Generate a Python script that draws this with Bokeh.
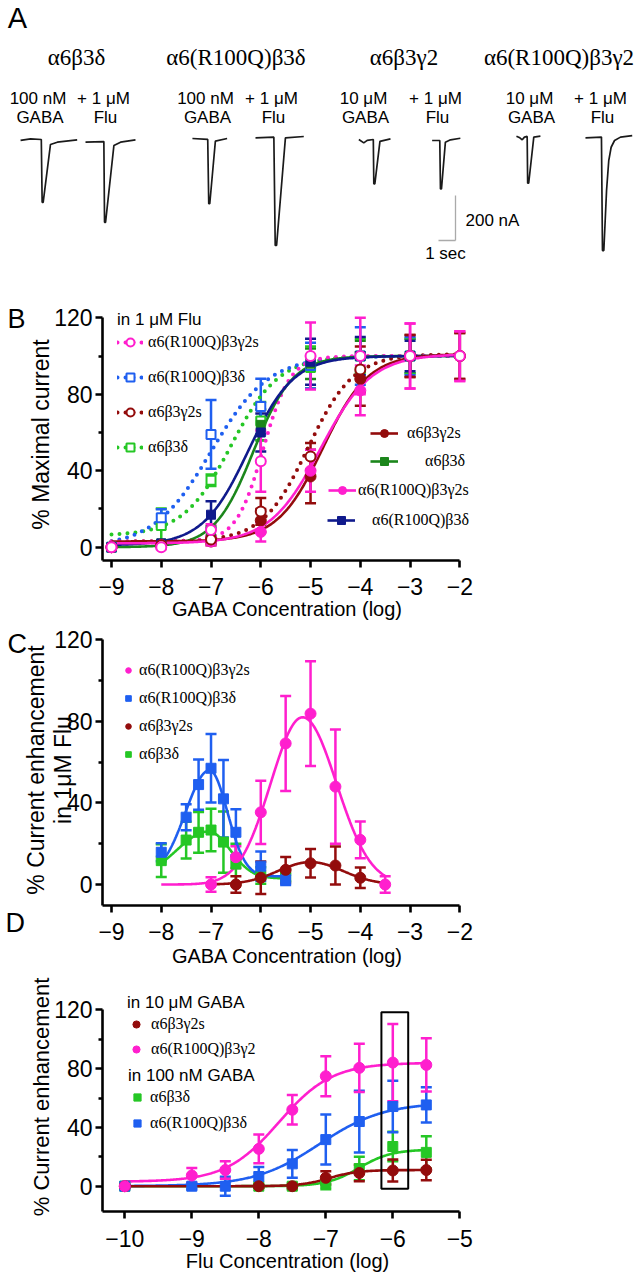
import numpy as np
from bokeh.plotting import figure
from bokeh.models import Range1d, Label, Legend, LegendItem, BoxAnnotation, FixedTicker, Title
from bokeh.layouts import column
from bokeh.embed import file_html
from bokeh.resources import INLINE

# ======================= DATA =======================
# ---- Panel A: current traces (time in s from trace start, current in nA from baseline)
A_TITLES = ["α6β3δ", "α6(R100Q)β3δ", "α6β3γ2", "α6(R100Q)β3γ2"]
A_COND_TOP = ["100 nM", "+ 1 μM", "100 nM", "+ 1 μM", "10 μM", "+ 1 μM", "10 μM", "+ 1 μM"]
A_COND_BOTTOM = ["GABA", "Flu", "GABA", "Flu", "GABA", "Flu", "GABA", "Flu"]
TRACE_1_T = [0, 0.59, 1.22, 1.27, 1.33, 1.76, 2.16, 3.33]
TRACE_1_I = [-4, 3, 0, -279, -279, -22, -12, -2]
TRACE_2_T = [0, 1.08, 1.12, 1.18, 1.67, 2.06, 2.94]
TRACE_2_I = [0, 3, -356, -356, -15, 0, 10]
TRACE_3_T = [0, 0.9, 0.96, 1.02, 1.35, 2.04]
TRACE_3_I = [0, -4, -290, -290, -12, 0]
TRACE_4_T = [0, 1.08, 1.16, 1.24, 1.76, 2.84]
TRACE_4_I = [-3, 0, -481, -481, -3, 3]
TRACE_5_T = [0, 0.29, 0.49, 0.85, 0.88, 0.94, 1.24, 1.86]
TRACE_5_I = [0, -15, -4, 0, -197, -197, -8, 3]
TRACE_6_T = [0, 0.45, 0.49, 0.55, 0.78, 1.08, 1.66]
TRACE_6_I = [0, 0, -215, -215, -7.5, 3, 10]
TRACE_7_T = [0, 0.2, 0.34, 0.47, 0.63, 0.66, 0.72, 1.02, 1.41]
TRACE_7_I = [0, -7, -16, -4, -1, -209, -209, -4, 0]
TRACE_8_T = [0, 0.94, 1.0, 1.08, 1.24, 1.37, 1.51, 1.71, 2.06, 2.75]
TRACE_8_I = [0, 3, -501, -501, -234, -101, -42, -12, 3, 10]
SCALE_BAR_NA = 200
SCALE_BAR_SEC = 1

# ---- Panel B: % maximal current vs log[GABA]
B_X_G = [-9, -8, -7, -6, -5, -4, -3, -2]
B_X_D = [-9, -8, -7, -6, -5, -4, -3]
B_A6B3G2S = [0, 1, 3, 14, 37, 88, 100, 100]
B_A6B3G2S_ERR = [1, 1, 2, 6, 14, 14, 11, 12]
B_R100Q_G2S = [0, 1, 3, 8, 40, 82, 100, 100]
B_R100Q_G2S_ERR = [1, 1, 2, 5, 11, 13, 17, 13]
B_A6B3D = [0, 2, 8, 64, 96, 100, 100]
B_A6B3D_ERR = [1, 1, 3, 8, 8, 8, 9]
B_R100Q_D = [0, 2, 17, 60, 97, 100, 100]
B_R100Q_D_ERR = [1, 1, 7, 10, 12, 10, 8]
B_FLU_R100Q_G2S = [0, 0, 9, 45, 100, 100, 100, 100]
B_FLU_R100Q_G2S_ERR = [1, 1, 3, 16, 17.5, 20, 17, 13]
B_FLU_R100Q_D = [0, 15.4, 59, 73.6, 95, 100, 100]
B_FLU_R100Q_D_ERR = [1, 4.5, 18, 14.5, 12, 15, 10]
B_FLU_A6B3G2S = [0, 1, 4, 18.7, 47.5, 93, 100, 100]
B_FLU_A6B3G2S_ERR = [1, 1, 2, 7, 7, 12, 11, 12]
B_FLU_A6B3D = [0, 11.3, 35, 66, 94, 100, 100]
B_FLU_A6B3D_ERR = [1, 9, 3, 10, 11, 9, 9]
# fitted Hill curves: [bottom, top, logEC50, Hill slope]
B_FIT_A6B3G2S = [3, 101, -4.75, 0.95]
B_FIT_R100Q_G2S = [2, 101, -4.8, 0.85]
B_FIT_A6B3D = [0, 100, -6.15, 1.1]
B_FIT_R100Q_D = [1, 100, -6.25, 0.95]
B_FIT_FLU_R100Q_G2S = [3, 100, -5.95, 1.6]
B_FIT_FLU_R100Q_D = [0, 100, -7.0, 0.75]
B_FIT_FLU_A6B3G2S = [3, 101, -5.05, 0.95]
B_FIT_FLU_A6B3D = [6, 100, -6.6, 0.9]

# ---- Panel C: % current enhancement in 1 uM Flu vs log[GABA]
C_X_D = [-8, -7.5, -7.25, -7, -6.75, -6.5, -6, -5.5]
C_R100Q_D = [15.8, 33, 49, 57, 42, 25.6, 9, 2.3]
C_R100Q_D_ERR = [4.4, 6.4, 12.3, 16.8, 19, 11.3, 7.2, 2.5]
C_A6B3D = [11.7, 21.8, 25.6, 26.7, 20.8, 10, 4.4, 3.6]
C_A6B3D_ERR = [8, 9, 10, 10.4, 15, 10, 4, 2]
C_X_R100Q_G2S = [-7, -6.5, -6, -5.5, -5, -4.5, -4, -3.5]
C_R100Q_G2S = [0, 13.4, 35.4, 69.2, 83.8, 48, 21.9, 0]
C_R100Q_G2S_ERR = [3.5, 5.3, 15.5, 23.3, 25.7, 28, 9, 4]
C_X_A6B3G2S = [-6.5, -6, -5.5, -5, -4.5, -4]
C_A6B3G2S = [0, 3.3, 7.2, 10.4, 9.3, 3.3]
C_A6B3G2S_ERR = [4, 8, 6.3, 7, 9.3, 5]
# bell-shaped fits: [baseline, amplitude, centre, left width, right width]
C_FIT_R100Q_G2S = [0, 82, -5.16, 0.64, 0.68]
C_FIT_R100Q_D = [4, 52, -7.03, 0.48, 0.36]
C_FIT_A6B3G2S = [0, 11, -5.0, 0.65, 0.65]
C_FIT_A6B3D = [3, 23, -7.05, 0.635, 0.436]
C_FIT_SPAN_R100Q_G2S = [-8, -3.5]
C_FIT_SPAN_R100Q_D = [-8, -5.5]
C_FIT_SPAN_A6B3G2S = [-7, -3.5]
C_FIT_SPAN_A6B3D = [-8, -5.5]

# ---- Panel D: % current enhancement vs log[Flu]
D_X = [-10, -9, -8.5, -8, -7.5, -7, -6.5, -6, -5.5]
D_X_W = [-10, -8, -7.5, -7, -6.5, -6, -5.5]
D_R100Q_G2 = [0, 7.3, 11, 25.4, 52, 74.8, 80.5, 84.1, 82.5]
D_R100Q_G2_ERR = [1.5, 5, 6, 9.8, 10, 13.6, 16.4, 26.3, 18.1]
D_R100Q_D = [0, 0, 0, 6.6, 15.2, 31.7, 44, 54.2, 55.3]
D_R100Q_D_ERR = [1.5, 2, 6.5, 6.5, 9.5, 17, 21, 17.5, 12]
D_A6B3D = [0, 0, 0, 2, 12, 27, 23]
D_A6B3D_ERR = [1, 1, 2, 4, 8, 10, 11]
D_A6B3G2S = [0, 0, 0, 5.7, 9, 10.7, 11]
D_A6B3G2S_ERR = [1, 1, 1.5, 4.5, 5.6, 7.5, 7]
D_FIT_R100Q_G2 = [3, 84, -7.7, 1.1]
D_FIT_R100Q_D = [0, 57, -7.1, 0.9]
D_FIT_A6B3D = [0, 25, -6.5, 1.8]
D_FIT_A6B3G2S = [0, 11, -6.95, 2.0]
D_HIGHLIGHT = [-6.17, -5.77, -1.8, 118.4]  # left, right, bottom, top

Y_TICKS = [0, 40, 80, 120]
Y_MINOR = [20, 60, 100]
B_X_TICKS = [-9, -8, -7, -6, -5, -4, -3, -2]
D_X_TICKS = [-10, -9, -8, -7, -6, -5]

# ======================= STYLE / LAYOUT =======================
W = 641
MAG = "#ff1fce"
DRED = "#930c0c"
BLUE = "#1f5ff0"
NAVY = "#101a8c"
GRN = "#25c725"
DGRN = "#1b861b"
SANS = "Liberation Sans"
SERIF = "Liberation Serif"
DOT = dict(line_dash="0 8", line_cap="round", line_width=4)
FRAME_L = 102
FRAME_R = 472


def hill(x, p):
    b, t, e, n = p
    return b + (t - b) / (1 + 10 ** ((e - x) * n))


def bell(x, p):
    base, amp, c, sl, sr = p
    s = np.where(x < c, sl, sr)
    return base + amp * np.exp(-(x - c) ** 2 / (2 * s ** 2))


def errbar(p, xs, ys, es, color, lw=2.5, cap=11):
    xs = np.asarray(xs, float); ys = np.asarray(ys, float); es = np.asarray(es, float)
    p.segment(x0=xs, y0=ys - es, x1=xs, y1=ys + es, line_color=color, line_width=lw)
    p.scatter(x=np.concatenate([xs, xs]), y=np.concatenate([ys - es, ys + es]),
              marker="dash", size=cap, line_color=color, line_width=lw)


def base_fig(height, xr, yr, top, bottom):
    p = figure(width=W, height=height, x_range=Range1d(*xr), y_range=Range1d(*yr),
               output_backend="svg", toolbar_location=None, frame_align=False,
               min_border_left=FRAME_L, min_border_right=W - FRAME_R,
               min_border_top=top, min_border_bottom=bottom)
    p.grid.visible = False
    p.outline_line_color = None
    p.background_fill_color = "white"
    p.border_fill_color = "white"
    return p


def style_axes(p, xticks, xbounds, xlabel, ylabel, ylabel_size="23px", xstand=10, xlstand=2, ylstand=0):
    p.xaxis.ticker = FixedTicker(ticks=xticks, minor_ticks=[])
    p.yaxis.ticker = FixedTicker(ticks=Y_TICKS, minor_ticks=Y_MINOR)
    p.xaxis.bounds = xbounds
    p.yaxis.bounds = (p.y_range.start, 120)
    for ax in list(p.xaxis) + list(p.yaxis):
        ax.axis_line_width = 2.6
        ax.axis_line_color = "black"
        ax.major_tick_line_width = 2.6
        ax.minor_tick_line_width = 2.6
        ax.major_tick_line_color = "black"
        ax.minor_tick_line_color = "black"
        ax.major_tick_in = 0
        ax.major_tick_out = 7
        ax.minor_tick_in = 0
        ax.minor_tick_out = 4
        ax.major_label_text_font = SANS
        ax.major_label_text_font_size = "23px"
        ax.major_label_text_color = "black"
        ax.axis_label_text_font = SANS
        ax.axis_label_text_font_style = "normal"
        ax.axis_label_text_color = "black"
    p.xaxis.major_label_standoff = xstand
    p.xaxis.axis_label = xlabel
    p.xaxis.axis_label_text_font_size = "20px"
    p.xaxis.axis_label_standoff = xlstand
    p.yaxis.major_label_standoff = 3
    p.yaxis.axis_label = ylabel
    p.yaxis.axis_label_text_font_size = ylabel_size
    p.yaxis.axis_label_standoff = ylstand


def make_legend(items, loc, glyph_w, standoff, spacing=0, title=None, title_standoff=2):
    lg = Legend(items=items, location=loc, orientation="vertical",
                glyph_width=glyph_w, glyph_height=20, label_height=20, label_width=10,
                label_standoff=standoff, spacing=spacing, padding=0, margin=0,
                border_line_color=None, background_fill_alpha=0,
                label_text_font=SERIF, label_text_font_size="16px",
                label_text_color="black")
    if title:
        lg.title = title
        lg.title_text_font = SANS
        lg.title_text_font_size = "17px"
        lg.title_text_font_style = "normal"
        lg.title_text_color = "black"
        lg.title_standoff = title_standoff
    return lg


def panel_letter(t, offset, standoff, vertical_align):
    return Title(text=t, align="left", offset=offset, standoff=standoff, vertical_align=vertical_align,
                 text_font=SANS, text_font_size="27px", text_font_style="normal", text_color="black")


# ======================= PANEL A =======================
PX_SEC = 17.0
NA_PX = 200.0 / 45.0
def a_x(px): return px / PX_SEC
def a_y(py): return (140 - py) * NA_PX

TRACE_START_S = [1.18, 5.0, 11.29, 15.0, 21.08, 25.39, 30.35, 34.41]
TRACE_BASE_NA = [4.4, -7.6, 8.9, 14.7, 4.4, 0, 19.1, 12]
A_TITLE_PX = [(76, 57), (235.5, 57), (403.5, 57), (558.5, 57)]
A_COND_PX = [37.5, 103, 205, 271, 363, 435, 529, 600]

pA = figure(width=W, height=280, x_range=Range1d(0, W / PX_SEC), y_range=Range1d(a_y(280), a_y(0)),
            output_backend="svg", toolbar_location=None, min_border=0, frame_align=False,
            x_axis_location=None, y_axis_location=None)
pA.grid.visible = False
pA.outline_line_color = None

traces_t = [TRACE_1_T, TRACE_2_T, TRACE_3_T, TRACE_4_T, TRACE_5_T, TRACE_6_T, TRACE_7_T, TRACE_8_T]
traces_i = [TRACE_1_I, TRACE_2_I, TRACE_3_I, TRACE_4_I, TRACE_5_I, TRACE_6_I, TRACE_7_I, TRACE_8_I]
for k in range(8):
    pA.line(TRACE_START_S[k] + np.array(traces_t[k]), TRACE_BASE_NA[k] + np.array(traces_i[k]),
            line_color="#1a1a1a", line_width=1.7)

sb_x, sb_y = a_x(455), a_y(240)
pA.segment(x0=[sb_x, sb_x - SCALE_BAR_SEC], y0=[sb_y, sb_y], x1=[sb_x, sb_x], y1=[sb_y + SCALE_BAR_NA, sb_y],
           line_color="#aaaaaa", line_width=1.3)
pA.add_layout(Label(x=a_x(465), y=a_y(220), text=f"{SCALE_BAR_NA} nA", text_font=SANS, text_font_size="17px",
                    text_align="left", text_baseline="middle", text_color="black"))
pA.add_layout(Label(x=a_x(445), y=a_y(253), text=f"{SCALE_BAR_SEC} sec", text_font=SANS, text_font_size="17px",
                    text_align="center", text_baseline="middle", text_color="black"))
for t, (px, py) in zip(A_TITLES, A_TITLE_PX):
    pA.add_layout(Label(x=a_x(px), y=a_y(py), text=t, text_font=SERIF, text_font_size="23px",
                        text_align="center", text_baseline="middle", text_color="black"))
for t1, t2, px in zip(A_COND_TOP, A_COND_BOTTOM, A_COND_PX):
    pA.add_layout(Label(x=a_x(px), y=a_y(98), text=t1, text_font=SANS, text_font_size="17px",
                        text_align="center", text_baseline="middle", text_color="black"))
    pA.add_layout(Label(x=a_x(px + 2), y=a_y(117), text=t2, text_font=SANS, text_font_size="17px",
                        text_align="center", text_baseline="middle", text_color="black"))
pA.add_layout(Label(x=a_x(17), y=a_y(17), text="A", text_font=SANS, text_font_size="29px",
                    text_align="center", text_baseline="middle", text_color="black"))

# ======================= PANEL B =======================
def bx(px): return -9 + (px - 111) / 49.76
def by(py): return (546.7 - py) / 1.9117

pB = base_fig(345, (bx(FRAME_L), bx(FRAME_R)), (by(560), by(308)), 28, 65)
style_axes(pB, B_X_TICKS, (bx(FRAME_L), -2), "GABA Concentration (log)", "% Maximal current",
           xstand=10, xlstand=0, ylstand=-3)

errbar(pB, B_X_D, B_A6B3D, B_A6B3D_ERR, DGRN)
errbar(pB, B_X_D, B_FLU_A6B3D, B_FLU_A6B3D_ERR, GRN)
errbar(pB, B_X_D, B_R100Q_D, B_R100Q_D_ERR, NAVY)
errbar(pB, B_X_D, B_FLU_R100Q_D, B_FLU_R100Q_D_ERR, BLUE)
errbar(pB, B_X_G, B_A6B3G2S, B_A6B3G2S_ERR, DRED)
errbar(pB, B_X_G, B_FLU_A6B3G2S, B_FLU_A6B3G2S_ERR, DRED)
errbar(pB, B_X_G, B_R100Q_G2S, B_R100Q_G2S_ERR, MAG)
errbar(pB, B_X_G, B_FLU_R100Q_G2S, B_FLU_R100Q_G2S_ERR, MAG)

xs = np.linspace(-9, -2, 300)
d_grn = pB.line(xs, hill(xs, B_FIT_FLU_A6B3D), line_color=GRN, **DOT)
d_blu = pB.line(xs, hill(xs, B_FIT_FLU_R100Q_D), line_color=BLUE, **DOT)
d_red = pB.line(xs, hill(xs, B_FIT_FLU_A6B3G2S), line_color=DRED, **DOT)
d_mag = pB.line(xs, hill(xs, B_FIT_FLU_R100Q_G2S), line_color=MAG, **DOT)
s_grn = pB.line(xs, hill(xs, B_FIT_A6B3D), line_color=DGRN, line_width=2.6)
s_nav = pB.line(xs, hill(xs, B_FIT_R100Q_D), line_color=NAVY, line_width=2.6)
s_red = pB.line(xs, hill(xs, B_FIT_A6B3G2S), line_color=DRED, line_width=2.6)
s_mag = pB.line(xs, hill(xs, B_FIT_R100Q_G2S), line_color=MAG, line_width=2.6)

m_grn_o = pB.scatter(B_X_D, B_FLU_A6B3D, marker="square", size=9, fill_color="white", line_color=GRN, line_width=2)
m_blu_o = pB.scatter(B_X_D, B_FLU_R100Q_D, marker="square", size=9, fill_color="white", line_color=BLUE, line_width=2)
m_grn_f = pB.scatter(B_X_D, B_A6B3D, marker="square", size=9, fill_color=DGRN, line_color=DGRN)
m_nav_f = pB.scatter(B_X_D, B_R100Q_D, marker="square", size=9, fill_color=NAVY, line_color=NAVY)
m_red_f = pB.scatter(B_X_G, B_A6B3G2S, marker="circle", size=11, fill_color=DRED, line_color=DRED)
m_mag_f = pB.scatter(B_X_G, B_R100Q_G2S, marker="circle", size=11, fill_color=MAG, line_color=MAG)
m_red_o = pB.scatter(B_X_G, B_FLU_A6B3G2S, marker="circle", size=10, fill_color="white", line_color=DRED, line_width=2)
m_mag_o = pB.scatter(B_X_G, B_FLU_R100Q_G2S, marker="circle", size=10, fill_color="white", line_color=MAG, line_width=2)

pB.add_layout(make_legend([
    LegendItem(label="α6(R100Q)β3γ2s", renderers=[d_mag, m_mag_o]),
    LegendItem(label="α6(R100Q)β3δ", renderers=[d_blu, m_blu_o]),
    LegendItem(label="α6β3γ2s", renderers=[d_red, m_red_o]),
    LegendItem(label="α6β3δ", renderers=[d_grn, m_grn_o]),
], (15, 103), 26, 5, spacing=15, title="in 1 μM Flu", title_standoff=2))
pB.add_layout(make_legend([LegendItem(label="α6β3γ2s", renderers=[s_red, m_red_f])], (268, 117), 28, 9))
pB.add_layout(make_legend([LegendItem(label="α6β3δ", renderers=[s_grn, m_grn_f])], (268, 89), 28, 27))
pB.add_layout(make_legend([LegendItem(label="α6(R100Q)β3γ2s", renderers=[s_mag, m_mag_f])], (226, 60), 28, 2))
pB.add_layout(make_legend([LegendItem(label="α6(R100Q)β3δ", renderers=[s_nav, m_nav_f])], (225, 30), 28, 17))
pB.add_layout(panel_letter("B", -95, -51, "bottom"), "above")

# ======================= PANEL C =======================
def cx(px): return -9 + (px - 111) / 49.76
def cy(py): return (884 - py) / 2.039

pC = base_fig(348, (cx(FRAME_L), cx(FRAME_R)), (cy(905), cy(634)), 9, 68)
style_axes(pC, B_X_TICKS, (cx(FRAME_L), -2), "GABA Concentration (log)",
           "% Current enhancement\nin 1μM Flu", ylstand=-25)
pC.yaxis.axis_label_text_line_height = 1.05

errbar(pC, C_X_D, C_A6B3D, C_A6B3D_ERR, GRN)
errbar(pC, C_X_D, C_R100Q_D, C_R100Q_D_ERR, BLUE)
errbar(pC, C_X_A6B3G2S, C_A6B3G2S, C_A6B3G2S_ERR, DRED)
errbar(pC, C_X_R100Q_G2S, C_R100Q_G2S, C_R100Q_G2S_ERR, MAG)
for span, fit, col in [(C_FIT_SPAN_A6B3D, C_FIT_A6B3D, GRN), (C_FIT_SPAN_R100Q_D, C_FIT_R100Q_D, BLUE),
                       (C_FIT_SPAN_A6B3G2S, C_FIT_A6B3G2S, DRED), (C_FIT_SPAN_R100Q_G2S, C_FIT_R100Q_G2S, MAG)]:
    xx = np.linspace(span[0], span[1], 250)
    pC.line(xx, bell(xx, fit), line_color=col, line_width=2.6)
c_grn = pC.scatter(C_X_D, C_A6B3D, marker="square", size=10, fill_color=GRN, line_color=GRN)
c_blu = pC.scatter(C_X_D, C_R100Q_D, marker="square", size=10, fill_color=BLUE, line_color=BLUE)
c_red = pC.scatter(C_X_A6B3G2S, C_A6B3G2S, marker="circle", size=11, fill_color=DRED, line_color=DRED)
c_mag = pC.scatter(C_X_R100Q_G2S, C_R100Q_G2S, marker="circle", size=11, fill_color=MAG, line_color=MAG)
pC.add_layout(make_legend([
    LegendItem(label="α6(R100Q)β3γ2s", renderers=[c_mag]),
    LegendItem(label="α6(R100Q)β3δ", renderers=[c_blu]),
    LegendItem(label="α6β3γ2s", renderers=[c_red]),
    LegendItem(label="α6β3δ", renderers=[c_grn]),
], (19, 141), 14, 4, spacing=8))
pC.add_layout(panel_letter("C", -95, -49, "bottom"), "above")
pC.add_layout(panel_letter("D", -97, -124, "top"), "below")

# ======================= PANEL D =======================
def dx(px): return -10 + (px - 124.3) / 67.0
def dy(py): return (1185.7 - py) / 1.47

pD = base_fig(307, (dx(FRAME_L), dx(FRAME_R)), (dy(1211), dy(982)), 9, 69)
style_axes(pD, D_X_TICKS, (dx(FRAME_L), -5), "Flu Concentration (log)", "% Current enhancement",
           ylabel_size="22px", xstand=11, xlstand=0, ylstand=-3)

pD.add_layout(BoxAnnotation(left=D_HIGHLIGHT[0], right=D_HIGHLIGHT[1], bottom=D_HIGHLIGHT[2], top=D_HIGHLIGHT[3],
                            fill_alpha=0, line_color="black", line_alpha=1, line_width=2))
errbar(pD, D_X_W, D_A6B3D, D_A6B3D_ERR, GRN)
errbar(pD, D_X, D_R100Q_D, D_R100Q_D_ERR, BLUE)
errbar(pD, D_X_W, D_A6B3G2S, D_A6B3G2S_ERR, DRED)
errbar(pD, D_X, D_R100Q_G2, D_R100Q_G2_ERR, MAG)
xd = np.linspace(-10, -5.5, 300)
pD.line(xd, hill(xd, D_FIT_A6B3D), line_color=GRN, line_width=2.6)
pD.line(xd, hill(xd, D_FIT_R100Q_D), line_color=BLUE, line_width=2.6)
pD.line(xd, hill(xd, D_FIT_A6B3G2S), line_color=DRED, line_width=2.6)
pD.line(xd, hill(xd, D_FIT_R100Q_G2), line_color=MAG, line_width=2.6)
e_grn = pD.scatter(D_X_W, D_A6B3D, marker="square", size=10, fill_color=GRN, line_color=GRN)
e_blu = pD.scatter(D_X, D_R100Q_D, marker="square", size=10, fill_color=BLUE, line_color=BLUE)
e_red = pD.scatter(D_X_W, D_A6B3G2S, marker="circle", size=11, fill_color=DRED, line_color=DRED)
e_mag = pD.scatter(D_X, D_R100Q_G2, marker="circle", size=11, fill_color=MAG, line_color=MAG)
pD.add_layout(make_legend([
    LegendItem(label="α6β3γ2s", renderers=[e_red]),
    LegendItem(label="α6(R100Q)β3γ2", renderers=[e_mag]),
], (25, 152), 18, 6, spacing=5, title="in 10 μM GABA", title_standoff=1))
pD.add_layout(make_legend([
    LegendItem(label="α6β3δ", renderers=[e_grn]),
    LegendItem(label="α6(R100Q)β3δ", renderers=[e_blu]),
], (26, 78), 18, 4, spacing=6, title="in 100 nM GABA", title_standoff=1))

layout = column(pA, pB, pC, pD, spacing=0)
open("out.html", "w").write(file_html(layout, INLINE))
